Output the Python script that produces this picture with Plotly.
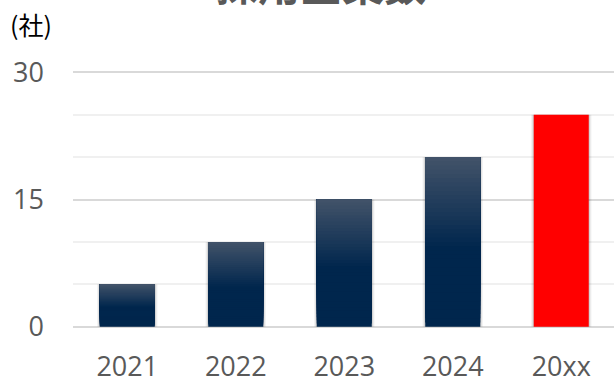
import plotly.graph_objects as go

categories = ["2021", "2022", "2023", "2024", "20xx"]
values = [5, 10, 15, 20, 25]
bar_colors_flag = ["navy", "navy", "navy", "navy", "red"]
y_ticks = [0, 15, 30]
y_minor = [5, 10, 20, 25]

W, H = 614, 380
PX_PER_UNIT = 8.5
PADU = 0.15
ML, MR = 73, 0
MT = 72 - PADU * PX_PER_UNIT
MB = (380 - 327) - PADU * PX_PER_UNIT
pw = W - ML - MR
ph = H - MT - MB

BAR_W = 0.507
TOP = (68, 84, 106)
BOT = (0, 38, 77)
N = 40

fig = go.Figure()

# soft shadow behind bars
for extra, alpha in [(0.05, 0.05), (0.03, 0.07), (0.015, 0.09)]:
    fig.add_trace(go.Bar(
        x=categories, y=values, width=BAR_W + extra,
        marker=dict(color=f"rgba(0,0,0,{alpha})", line=dict(width=0)),
        hoverinfo="skip", showlegend=False))

# gradient navy bars built from stacked overlapping segments
gx, gbase, gy, gcol = [], [], [], []
for cat, v, flag in zip(categories, values, bar_colors_flag):
    if flag != "navy":
        continue
    for k in range(N):
        frac = k / N
        b = v * frac
        t = max(0.0, (frac - 0.45) / 0.55)
        c = tuple(round(BOT[i] + (TOP[i] - BOT[i]) * t) for i in range(3))
        gx.append(cat)
        gbase.append(b)
        gy.append(v - b)
        gcol.append(f"rgb{c}")
fig.add_trace(go.Bar(
    x=gx, y=gy, base=gbase, width=BAR_W,
    marker=dict(color=gcol, line=dict(width=0)),
    hoverinfo="skip", showlegend=False))

# red bar
rx = [c for c, f in zip(categories, bar_colors_flag) if f == "red"]
ry = [v for v, f in zip(values, bar_colors_flag) if f == "red"]
fig.add_trace(go.Bar(
    x=rx, y=ry, width=BAR_W,
    marker=dict(color="#FF0000", line=dict(width=0)),
    showlegend=False))

fig.update_layout(
    width=W, height=H,
    margin=dict(l=ML, r=MR, t=MT, b=MB, pad=0, autoexpand=False),
    barmode="overlay",
    plot_bgcolor="white", paper_bgcolor="white",
    font=dict(family="Open Sans, Noto Sans CJK JP", color="#595959"),
    showlegend=False,
)
fig.update_xaxes(
    type="category", categoryorder="array", categoryarray=categories,
    range=[-0.5, 4.5 - 1.5 / 108.5], automargin=False,
    showgrid=False, zeroline=False, showline=False, ticks="",
    tickfont=dict(size=27, color="#595959", family="Open Sans"),
    ticklabelstandoff=20,
)
fig.update_yaxes(
    range=[-PADU, 30 + PADU], tickvals=y_ticks, ticktext=[str(t) for t in y_ticks],
    automargin=False,
    showgrid=True, gridcolor="#d9d9d9", gridwidth=1.5,
    zeroline=False, showline=False, ticks="",
    minor=dict(tickvals=y_minor, showgrid=True, gridcolor="#f0f0f0", gridwidth=1.5),
    tickfont=dict(size=27, color="#595959", family="Open Sans"),
    ticklabelstandoff=28,
)

fig.add_annotation(
    text="<b>採用企業数</b>", xref="paper", yref="paper",
    x=(321 - ML) / pw, y=1 + (MT - 15) / ph, xanchor="center", yanchor="bottom",
    showarrow=False,
    font=dict(size=42, color="#595959", family="Noto Sans CJK JP"))
fig.add_annotation(
    text="(社)", xref="paper", yref="paper",
    x=(8 - ML) / pw, y=1 + (MT - 24) / ph, xanchor="left", yanchor="middle",
    showarrow=False,
    font=dict(size=25, color="#000000", family="Noto Sans CJK JP"))

fig.write_html("out.html")
